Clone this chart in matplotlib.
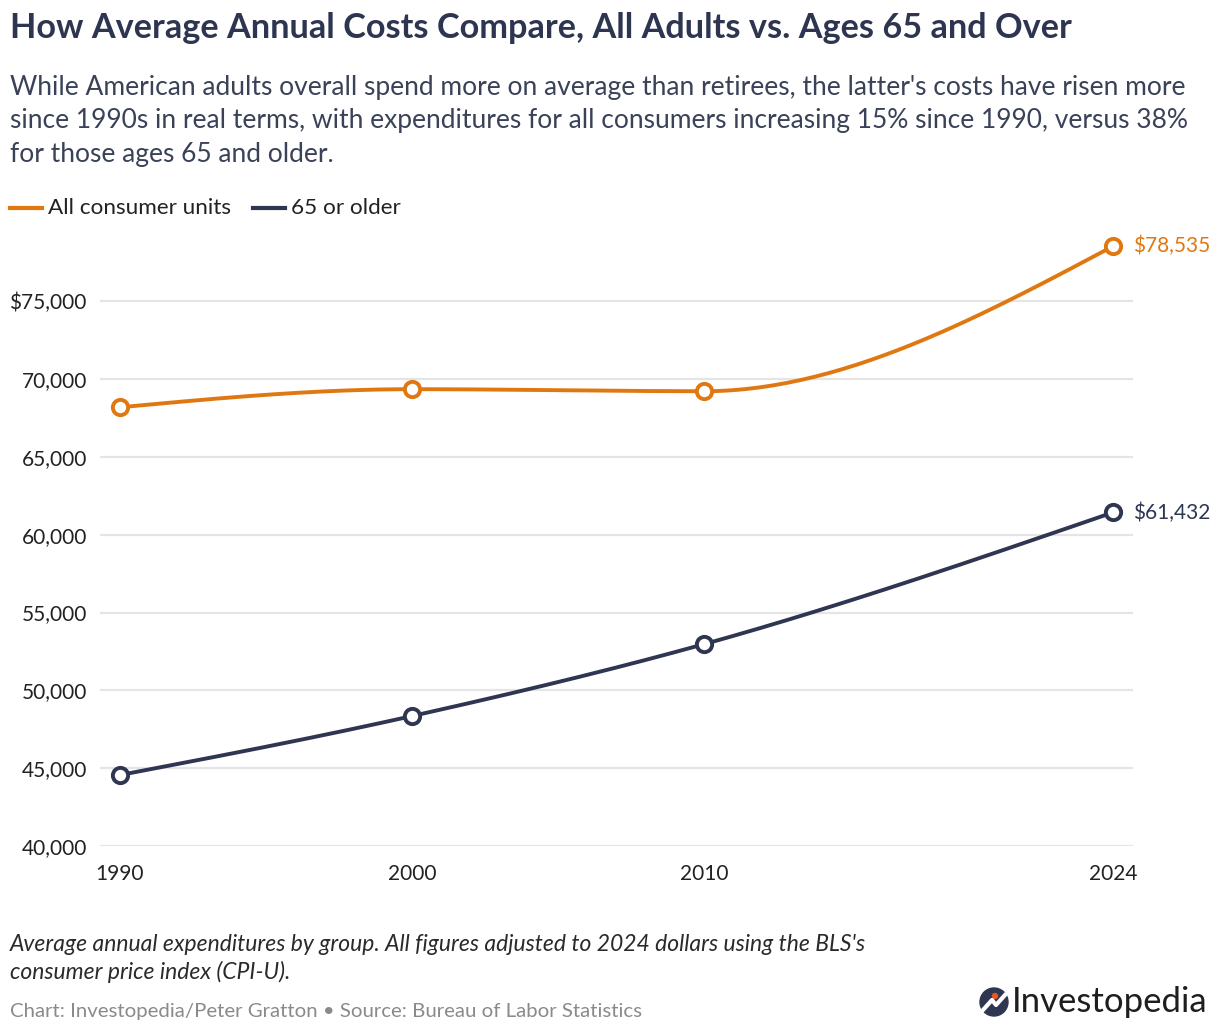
import numpy as np
import matplotlib
matplotlib.use('Agg')
import matplotlib.pyplot as plt
from matplotlib.patches import Circle

# ---- data ----
years = [1990, 2000, 2010, 2024]
all_units = [68190, 69350, 69220, 78535]
older_65 = [44560, 48350, 52970, 61432]
series_names = ['All consumer units', '65 or older']
y_ticks = [40000, 45000, 50000, 55000, 60000, 65000, 70000, 75000]

ORANGE = '#e07812'
NAVY = '#2f3652'
TITLE_C = '#2d3550'
TEXT_C = '#3a4258'
GRID_C = '#e5e5e5'

plt.rcParams['font.family'] = ['Lato', 'DejaVu Sans']

W, H = 1220, 1036
fig = plt.figure(figsize=(W / 100, H / 100), dpi=100)
fig.patch.set_facecolor('white')


def fx(px):
    return px / W


def fy(py):
    return 1 - py / H


def monotone_x(x, y, n=60):
    # d3 curveMonotoneX style smoothing
    x = np.asarray(x, float)
    y = np.asarray(y, float)
    h = np.diff(x)
    s = np.diff(y) / h
    t = np.zeros(len(x))
    for i in range(1, len(x) - 1):
        p = (s[i - 1] * h[i] + s[i] * h[i - 1]) / (h[i - 1] + h[i])
        t[i] = (np.sign(s[i - 1]) + np.sign(s[i])) * min(abs(s[i - 1]), abs(s[i]), 0.5 * abs(p))
    t[0] = (3 * s[0] - t[1]) / 2
    t[-1] = (3 * s[-1] - t[-2]) / 2
    xs, ys = [], []
    for i in range(len(x) - 1):
        u = np.linspace(0, 1, n)
        h00 = 2 * u**3 - 3 * u**2 + 1
        h10 = u**3 - 2 * u**2 + u
        h01 = -2 * u**3 + 3 * u**2
        h11 = u**3 - u**2
        xs.append(x[i] + u * h[i])
        ys.append(h00 * y[i] + h10 * h[i] * t[i] + h01 * y[i + 1] + h11 * h[i] * t[i + 1])
    return np.concatenate(xs), np.concatenate(ys)


# ---- axes ----
ax = fig.add_axes([fx(100), fy(846), fx(1133) - fx(100), fy(239) - fy(846)])
ax.set_xlim(1990 - 20 / 29.2, 2024 + 20 / 29.2)
ax.set_ylim(40000, 79000)
for sp in ax.spines.values():
    sp.set_visible(False)
for v in y_ticks:
    ax.axhline(v, color=GRID_C, lw=1.6, zorder=0)

for vals, col in [(all_units, ORANGE), (older_65, NAVY)]:
    sx, sy = monotone_x(years, vals)
    ax.plot(sx, sy, color=col, lw=2.8, solid_capstyle='round', zorder=3, clip_on=False)
    ax.plot(years, vals, 'o', ms=11, mfc='white', mec=col, mew=2.8, zorder=4, clip_on=False)

ax.text(2024 + 20 / 29.2, all_units[-1], f'${all_units[-1]:,}', color=ORANGE,
        fontsize=15, va='center', ha='left')
ax.text(2024 + 20 / 29.2, older_65[-1], f'${older_65[-1]:,}', color=NAVY,
        fontsize=15, va='center', ha='left')

ax.set_yticks(y_ticks)
ax.set_yticklabels([('$' if v == y_ticks[-1] else '') + f'{v:,}' for v in y_ticks])
ax.set_xticks(years)
ax.set_xticklabels([str(y) for y in years])
ax.tick_params(axis='both', length=0, labelsize=15, labelcolor='#222222')
ax.tick_params(axis='y', pad=9.5)
ax.tick_params(axis='x', pad=13)

# ---- titles ----
fig.text(fx(10), fy(28), 'How Average Annual Costs Compare, All Adults vs. Ages 65 and Over',
         fontsize=24.7, fontweight='bold', color=TITLE_C, va='center', ha='left')
sub = ("While American adults overall spend more on average than retirees, the latter's costs have risen more\n"
       "since 1990s in real terms, with expenditures for all consumers increasing 15% since 1990, versus 38%\n"
       "for those ages 65 and older.")
fig.text(fx(10), fy(75), sub, fontsize=19, color=TEXT_C, va='top', ha='left', linespacing=1.42)

# ---- legend ----
leg_y = fy(208)
fig.add_artist(plt.Line2D([fx(10), fx(42)], [leg_y, leg_y], color=ORANGE, lw=3))
fig.text(fx(48), leg_y, series_names[0], fontsize=16.2, color='#222222', va='center', ha='left')
fig.add_artist(plt.Line2D([fx(253), fx(285)], [leg_y, leg_y], color=NAVY, lw=3))
fig.text(fx(291), leg_y, series_names[1], fontsize=16.2, color='#222222', va='center', ha='left')

# ---- footer ----
fig.text(fx(10), fy(934), "Average annual expenditures by group. All figures adjusted to 2024 dollars using the BLS's\n"
         "consumer price index (CPI-U).", fontsize=16.5, style='italic', color='#2a2a2a',
         va='top', ha='left', linespacing=1.3)
fig.text(fx(10), fy(1012), 'Chart: Investopedia/Peter Gratton \u2022 Source: Bureau of Labor Statistics',
         fontsize=14.7, color='#8a8a8a', va='center', ha='left')

# logo
lax = fig.add_axes([0, 0, 1, 1], facecolor='none')
lax.set_xlim(0, W)
lax.set_ylim(H, 0)
lax.axis('off')
lax.add_patch(Circle((994, 1002), 14, color=NAVY))
lax.plot([983, 992, 996, 1005], [1010, 1000, 1005, 995], color='white', lw=3)
lax.add_patch(Circle((995, 996), 2.5, color='#e8571c'))
lax.text(1012, 1002, 'Investopedia', fontsize=25, color='#1e1e1e', va='center', ha='left')

fig.savefig('out.png', dpi=100, facecolor='white')
